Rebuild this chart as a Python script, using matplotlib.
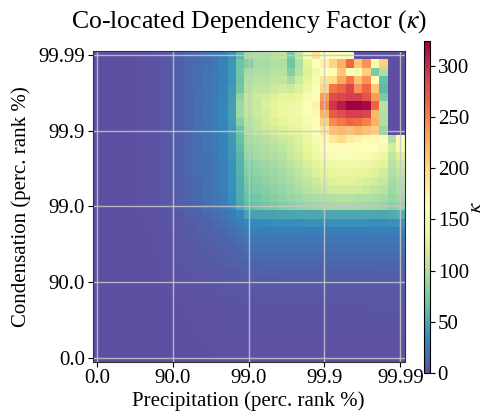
import numpy as np
import matplotlib
matplotlib.use("Agg")
import matplotlib.pyplot as plt

plt.rcParams["font.family"] = ["Liberation Serif", "DejaVu Serif"]
plt.rcParams["mathtext.fontset"] = "stix"

# percentile-rank ticks shared by both axes
rank_ticks = [0.0, 90.0, 99.0, 99.9, 99.99]
rank_labels = ["0.0", "90.0", "99.0", "99.9", "99.99"]
bins_per_decade = 9

# kappa per bin, rows listed from the top (highest condensation rank) down;
# columns run from low to high precipitation rank
kappa_high = [
    [1,1,1,1,1,2,2,3,5,8,11,14,17,20,24,29,38,60, 95,100,100,105,110,75,110,150,190,160,165,160,158,0,0,0,0,0,0],
    [1,1,1,1,1,2,2,3,5,8,11,14,17,20,24,30,40,68, 80,95,95,100,100,70,100,130,160,175,200,225,262,210,240,150,205,0,0],
    [1,1,1,1,1,2,2,3,5,8,11,14,17,21,25,30,40,70, 95,100,100,105,105,80,105,125,145,160,165,210,165,150,205,75,100,0,0],
    [1,1,1,1,1,2,2,3,5,8,11,14,17,21,25,30,40,68, 100,105,105,110,110,95,115,130,150,190,195,230,255,215,240,165,65,0,0],
    [1,1,1,1,1,2,2,3,5,8,11,14,17,21,25,31,42,72, 105,110,110,115,120,115,125,140,155,200,255,265,285,240,265,210,62,0,0],
    [1,1,1,1,1,2,2,3,5,8,11,14,18,21,26,31,44,85, 110,115,120,125,130,130,135,150,165,235,280,285,290,290,275,235,75,0,0],
    [1,1,1,1,1,2,2,3,5,8,11,14,18,22,26,32,45,92, 110,115,125,130,135,140,145,155,175,245,295,310,324,322,318,265,105,0,0],
    [1,1,1,1,1,2,2,3,5,8,11,14,18,22,26,32,45,90, 110,115,120,130,135,140,145,155,170,225,270,280,290,290,285,220,100,0,0],
    [1,1,1,1,1,2,2,3,5,8,11,14,18,22,26,32,44,80, 105,110,120,125,130,135,140,150,165,205,245,255,265,260,250,225,100,0,0],
    [1,1,1,1,1,2,2,3,5,8,11,14,18,21,26,31,43,68, 100,110,115,120,125,130,135,145,160,185,215,220,215,225,215,205,90,0,0],
    [1,1,1,1,1,2,2,3,5,8,11,14,17,21,25,31,42,65, 95,100,105,110,115,120,125,135,150,170,185,195,180,175,170,168,160,100,165],
    [1,1,1,1,1,2,2,3,5,8,11,14,17,21,25,30,41,62, 92,97,100,105,110,115,122,132,145,158,165,168,166,164,160,158,150,120,150],
    [1,1,1,1,1,2,2,3,5,8,11,14,17,20,24,30,40,58, 88,93,97,100,105,112,118,128,138,148,152,155,155,153,150,146,140,110,125],
    [1,1,1,1,1,2,2,3,5,8,11,14,17,20,24,29,39,56, 82,88,92,95,100,107,113,122,130,138,142,144,144,142,138,134,128,105,115],
    [1,1,1,1,1,2,2,3,5,8,11,14,17,20,24,29,38,55, 78,84,88,92,96,102,108,116,124,130,134,136,136,134,130,126,120,100,108],
    [1,1,1,1,1,2,2,3,5,8,11,13,16,19,23,28,37,54, 74,80,84,88,92,97,103,110,116,122,126,128,128,126,122,118,112,95,102],
    [1,1,1,1,1,2,2,3,5,7,10,13,16,19,23,28,37,53, 70,76,80,84,88,93,98,104,110,115,118,120,120,118,114,110,106,92,98],
    [1,1,1,1,1,2,2,3,5,7,10,13,16,19,22,27,36,52, 66,72,76,80,84,88,92,95,98,100,102,104,104,102,100,98,96,88,92],
    [1,1,1,1,1,2,2,3,4,7,10,12,15,18,22,27,35,50, 62,68,72,75,78,82,85,88,90,92,94,95,95,94,92,90,88,82,85],
]

kappa_low = [
    [1,1,1,1,1,1,2,2,3,5,7,9,11,14,17,21,26,33, 46,47,48,48,49,49,50,50,50,50,50,50,50,50,50,50,50,52,54],
    [1,1,1,1,1,1,2,2,3,4,6,8,10,12,15,18,22,27, 34,35,35,36,36,36,36,37,37,37,37,37,37,37,37,36,36,37,38],
    [1,1,1,1,1,1,1,2,3,4,5,7,9,11,13,15,18,22, 27,28,28,28,28,29,29,29,29,29,29,29,29,29,29,29,28,28,29],
    [1,1,1,1,1,1,1,2,2,3,5,6,8,9,11,13,15,18, 22,23,23,23,23,23,23,24,24,24,24,24,24,24,23,23,23,23,23],
    [1,1,1,1,1,1,1,2,2,3,4,5,7,8,10,11,13,15, 18,19,19,19,19,19,20,20,20,20,20,20,20,20,19,19,19,19,19],
    [1,1,1,1,1,1,1,1,2,3,4,5,6,7,8,9,11,13, 15,16,16,16,16,16,16,16,16,16,16,16,16,16,16,16,16,16,16],
    [1,1,1,1,1,1,1,1,2,2,3,4,5,6,7,8,9,10, 12,12,13,13,13,13,13,13,13,13,13,13,13,13,13,13,12,12,12],
    [1,1,1,1,1,1,1,1,2,2,3,3,4,5,5,6,7,8, 9,10,10,10,10,10,10,10,10,10,10,10,10,10,10,10,10,10,10],
    [1,1,1,1,1,1,1,1,1,2,2,3,3,4,4,5,5,6, 7,7,7,7,8,8,8,8,8,8,8,8,8,8,8,8,8,8,8],
    [1,1,1,1,1,1,1,1,1,2,2,2,3,3,3,4,4,5, 5,5,5,6,6,6,6,6,6,6,6,6,6,6,6,6,6,6,6],
    [1,1,1,1,1,1,1,1,1,1,2,2,2,3,3,3,3,4, 4,4,4,4,4,4,4,4,4,4,4,4,4,4,4,5,5,5,5],
    [1,1,1,1,1,1,1,1,1,1,1,2,2,2,2,2,3,3, 3,3,3,3,3,3,3,3,3,3,3,3,3,3,3,4,4,4,4],
    [1,1,1,1,1,1,1,1,1,1,1,2,2,2,2,2,3,3, 3,3,3,3,3,3,3,3,3,3,3,3,3,3,3,3,3,3,3],
    [1,1,1,1,1,1,1,1,1,1,1,1,2,2,2,2,2,3, 3,3,3,3,3,3,3,3,3,3,3,3,3,3,3,3,3,3,3],
    [1,1,1,1,1,1,1,1,1,1,1,1,2,2,2,2,2,2, 2,2,2,2,3,3,3,3,3,3,3,3,3,3,3,3,3,3,3],
    [1,1,1,1,1,1,1,1,1,1,1,1,1,2,2,2,2,2, 2,2,2,2,2,2,2,2,2,2,2,2,2,2,2,2,2,2,2],
    [1,1,1,1,1,1,1,1,1,1,1,1,1,1,2,2,2,2, 2,2,2,2,2,2,2,2,2,2,2,2,2,2,2,2,2,2,2],
    [1,1,1,1,1,1,1,1,1,1,1,1,1,1,1,2,2,2, 2,2,2,2,2,2,2,2,2,2,2,2,2,2,2,2,2,2,2],
]

kappa = np.array(kappa_high + kappa_low, dtype=float)[::-1]
n_rows, n_cols = kappa.shape

# bins are evenly spaced in -log10(1 - rank)
x_edges = (np.arange(n_cols + 1) - 0.5) / bins_per_decade
y_edges = (np.arange(n_rows + 1) - 0.5) / bins_per_decade
tick_pos = [-np.log10(1 - p / 100.0) for p in rank_ticks]

fig = plt.figure(figsize=(4.86, 4.16), dpi=100)
ax = fig.add_axes([0.1905, 0.1305, 0.642, 0.7475])
mesh = ax.pcolormesh(x_edges, y_edges, kappa, cmap="Spectral_r",
                     vmin=0, vmax=kappa.max(), shading="flat")
ax.set_xlim(x_edges[0], x_edges[-1])
ax.set_ylim(y_edges[0], y_edges[-1])
ax.set_xticks(tick_pos)
ax.set_xticklabels(rank_labels)
ax.set_yticks(tick_pos)
ax.set_yticklabels(rank_labels)
ax.tick_params(labelsize=15, length=3.5, width=0.8, pad=2)
ax.grid(True, color="#c8c8c8", linewidth=1.0, alpha=0.85)
for s in ax.spines.values():
    s.set_linewidth(0.8)
    s.set_color("#333333")

ax.set_xlabel("Precipitation (perc. rank %)", fontsize=15, labelpad=2)
ax.set_ylabel("Condensation (perc. rank %)", fontsize=15, labelpad=5)
ax.set_title(r"Co-located Dependency Factor ($\kappa$)", fontsize=18.5, pad=17)

cax = fig.add_axes([0.873, 0.1034, 0.012, 0.798])
cb = fig.colorbar(mesh, cax=cax, ticks=[0, 50, 100, 150, 200, 250, 300])
cb.ax.tick_params(labelsize=15, length=3.5, width=0.8, pad=2)
cb.outline.set_linewidth(0.8)
cb.set_label(r"$\kappa$", fontsize=15, labelpad=-1.5)

fig.savefig("out.png", dpi=100)
